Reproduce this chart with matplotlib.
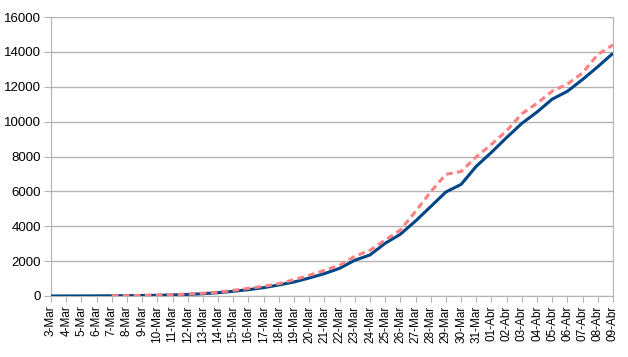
import numpy as np
import matplotlib
matplotlib.use("Agg")
import matplotlib.pyplot as plt

# dates on the x axis
days = [f"{d}-Mar" for d in range(3, 32)] + [f"{d:02d}-Abr" for d in range(1, 10)]

# solid blue series
serie_azul = [0, 3, 5, 8, 12, 20, 30, 40, 60, 90, 130, 190, 270, 364, 478, 632,
              804, 1033, 1282, 1589, 2048, 2354, 3024, 3541, 4300, 5130, 5965,
              6400, 7440, 8240, 9090, 9900, 10550, 11290, 11740, 12420, 13150,
              13920]

# dashed pink series (starts on 7-Mar)
serie_rosa = [np.nan, np.nan, np.nan, np.nan, 15, 25, 35, 50, 75, 110, 160, 220,
              325, 440, 555, 708, 938, 1187, 1474, 1761, 2278, 2620, 3215, 3785,
              4850, 5980, 6980, 7140, 7980, 8700, 9480, 10450, 11050, 11750,
              12150, 12800, 13850, 14400]

plt.rcParams['font.family'] = ['Liberation Sans', 'DejaVu Sans']

fig = plt.figure(figsize=(6.28, 3.57), dpi=100)
ax = fig.add_axes([51 / 628, 1 - 296 / 357, 562 / 628, 279 / 357])

x = np.arange(len(days))
ax.plot(x, serie_azul, color='#004586', lw=2.2, solid_capstyle='butt', zorder=3)
ax.plot(x, serie_rosa, color='#ff8080', lw=2.2, ls=(0, (2.2, 1.4)), zorder=4)

ax.set_xlim(0, len(days) - 1)
ax.set_ylim(0, 16000)
ax.set_yticks(range(0, 16001, 2000))
ax.set_xticks(x)
ax.set_xticklabels(days, rotation=90, fontsize=8.5)
ax.tick_params(axis='y', labelsize=9.5, length=5, color='#b3b3b3', pad=2)
ax.tick_params(axis='x', length=4, color='#b3b3b3', pad=3)

ax.grid(axis='y', color='#b3b3b3', lw=1)
ax.set_axisbelow(True)
for s in ['left', 'right', 'bottom']:
    ax.spines[s].set_color('#b3b3b3')
ax.spines['top'].set_visible(False)

fig.savefig('out.png', dpi=100)
